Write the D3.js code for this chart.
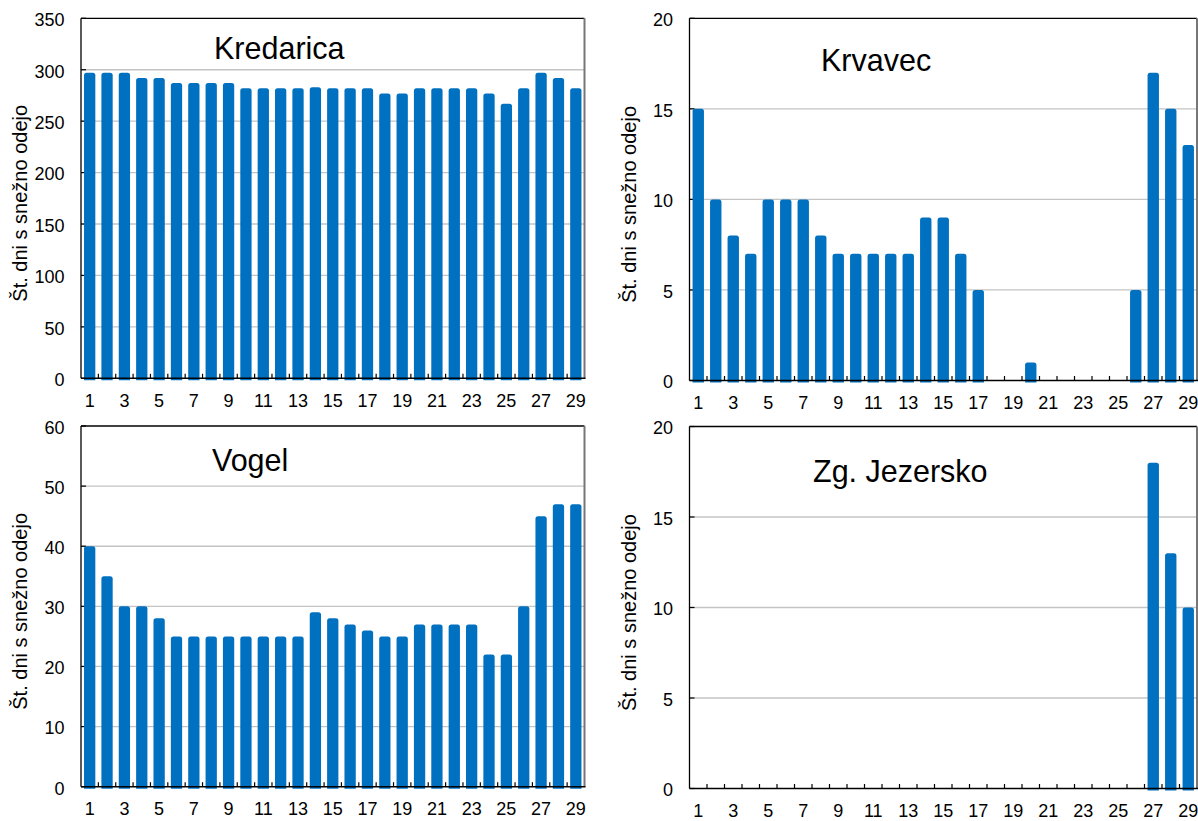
<!DOCTYPE html>
<html>
<head>
<meta charset="utf-8">
<script src="https://cdn.jsdelivr.net/npm/d3@7/dist/d3.min.js"></script>
<style>
    body { margin: 0; background: #fff; }
    text { font-family: Arial, "Liberation Sans", sans-serif; fill: #000; }
</style>
</head>
<body>
<div id="chart"></div>
<script>
// podatki
const days = [1,2,3,4,5,6,7,8,9,10,11,12,13,14,15,16,17,18,19,20,21,22,23,24,25,26,27,28,29];
const dayLabels = [1,3,5,7,9,11,13,15,17,19,21,23,25,27,29];

const kredarica = [297,297,297,292,292,287,287,287,287,282,282,282,282,283,282,282,282,277,277,282,282,282,282,277,267,282,297,292,282];
const krvavec = [15,10,8,7,10,10,10,8,7,7,7,7,7,9,9,7,5,0,0,1,0,0,0,0,0,5,17,15,13];
const vogel = [40,35,30,30,28,25,25,25,25,25,25,25,25,29,28,27,26,25,25,27,27,27,27,22,22,30,45,47,47];
const jezersko = [0,0,0,0,0,0,0,0,0,0,0,0,0,0,0,0,0,0,0,0,0,0,0,0,0,0,18,13,10];

const kredaricaTicks = [0,50,100,150,200,250,300,350];
const krvavecTicks = [0,5,10,15,20];
const vogelTicks = [0,10,20,30,40,50,60];
const jezerskoTicks = [0,5,10,15,20];

const yTitle = 'Št. dni s snežno odejo';

let svg = d3.select('#chart').append('svg')
    .attr('width', 1198)
    .attr('height', 821);

drawPanel('Kredarica', kredarica, kredaricaTicks, {left: 81, right: 584.5, top: 18.3, bottom: 378.3, titleX: 214, titleY: 59, labelX: 27});
drawPanel('Krvavec', krvavec, krvavecTicks, {left: 689.5, right: 1197, top: 18.3, bottom: 380.5, titleX: 821, titleY: 70.5, labelX: 636});
drawPanel('Vogel', vogel, vogelTicks, {left: 81, right: 584.5, top: 426, bottom: 786.7, titleX: 212, titleY: 471, labelX: 27});
drawPanel('Zg. Jezersko', jezersko, jezerskoTicks, {left: 689.5, right: 1197, top: 426.5, bottom: 788.5, titleX: 813, titleY: 481.5, labelX: 636});

function drawPanel(name, values, ticks, p) {
    let g = svg.append('g');

    let x = d3.scaleBand()
        .domain(days)
        .range([p.left, p.right])
        .paddingInner(0.35)
        .paddingOuter(0.175);

    let y = d3.scaleLinear()
        .domain([0, d3.max(ticks)])
        .range([p.bottom, p.top]);

    //Mreža
    g.append('g')
        .selectAll('line')
        .data(ticks.slice(1, -1))
        .enter()
        .append('line')
        .attr('x1', p.left)
        .attr('x2', p.right)
        .attr('y1', d => y(d))
        .attr('y2', d => y(d))
        .style('stroke', '#c4c4c4')
        .style('stroke-width', 1.3);

    //Oznake na osi y (navznoter)
    g.append('g')
        .selectAll('line')
        .data(ticks)
        .enter()
        .append('line')
        .attr('x1', p.left)
        .attr('x2', p.left + 5)
        .attr('y1', d => y(d))
        .attr('y2', d => y(d))
        .style('stroke', '#000')
        .style('stroke-width', 1.2);

    //Oznake na osi x
    let step = x.step();
    g.append('g')
        .selectAll('line')
        .data(days.slice(1))
        .enter()
        .append('line')
        .attr('x1', d => x(d) - step * 0.175)
        .attr('x2', d => x(d) - step * 0.175)
        .attr('y1', p.bottom)
        .attr('y2', p.bottom - 4.5)
        .style('stroke', '#000')
        .style('stroke-width', 1.2);

    //Stolpci
    g.append('g')
        .selectAll('path')
        .data(values.map((v, i) => ({day: days[i], value: v})).filter(d => d.value > 0))
        .enter()
        .append('path')
        .attr('d', d => barPath(x(d.day), y(d.value), x.bandwidth(), p.bottom + 2 - y(d.value), 2.5))
        .attr('fill', '#0070c0');

    //Okvir
    g.append('line')
        .attr('x1', p.left).attr('x2', p.right)
        .attr('y1', p.top).attr('y2', p.top)
        .style('stroke', '#000').style('stroke-width', 1.3);
    g.append('line')
        .attr('x1', p.right).attr('x2', p.right)
        .attr('y1', p.top).attr('y2', p.bottom)
        .style('stroke', '#777').style('stroke-width', 2);
    g.append('line')
        .attr('x1', p.left).attr('x2', p.left)
        .attr('y1', p.top).attr('y2', p.bottom)
        .style('stroke', '#000').style('stroke-width', 1.3);
    g.append('line')
        .attr('x1', p.left).attr('x2', p.right + 1)
        .attr('y1', p.bottom).attr('y2', p.bottom)
        .style('stroke', '#000').style('stroke-width', 1.6);

    //Napisi osi y
    g.append('g')
        .selectAll('text')
        .data(ticks)
        .enter()
        .append('text')
        .attr('x', p.left - 16.5)
        .attr('y', d => y(d) + 7.8)
        .attr('text-anchor', 'end')
        .style('font-size', '18px')
        .text(d => d);

    //Napisi osi x
    g.append('g')
        .selectAll('text')
        .data(dayLabels)
        .enter()
        .append('text')
        .attr('x', d => x(d) + x.bandwidth() / 2)
        .attr('y', p.bottom + 28.6)
        .attr('text-anchor', 'middle')
        .style('font-size', '18px')
        .text(d => d);

    //Naslov osi
    g.append('text')
        .attr('transform', 'translate(' + p.labelX + ',' + ((p.top + p.bottom) / 2 + 5) + ') rotate(-90)')
        .attr('text-anchor', 'middle')
        .style('font-size', '20px')
        .text(yTitle);

    //Ime postaje
    g.append('text')
        .attr('x', p.titleX)
        .attr('y', p.titleY)
        .style('font-size', '30.5px')
        .text(name);
}

function barPath(x0, y0, w, h, r) {
    return 'M' + x0 + ',' + (y0 + h) +
        'V' + (y0 + r) +
        'Q' + x0 + ',' + y0 + ' ' + (x0 + r) + ',' + y0 +
        'H' + (x0 + w - r) +
        'Q' + (x0 + w) + ',' + y0 + ' ' + (x0 + w) + ',' + (y0 + r) +
        'V' + (y0 + h) + 'Z';
}
</script>
</body>
</html>
